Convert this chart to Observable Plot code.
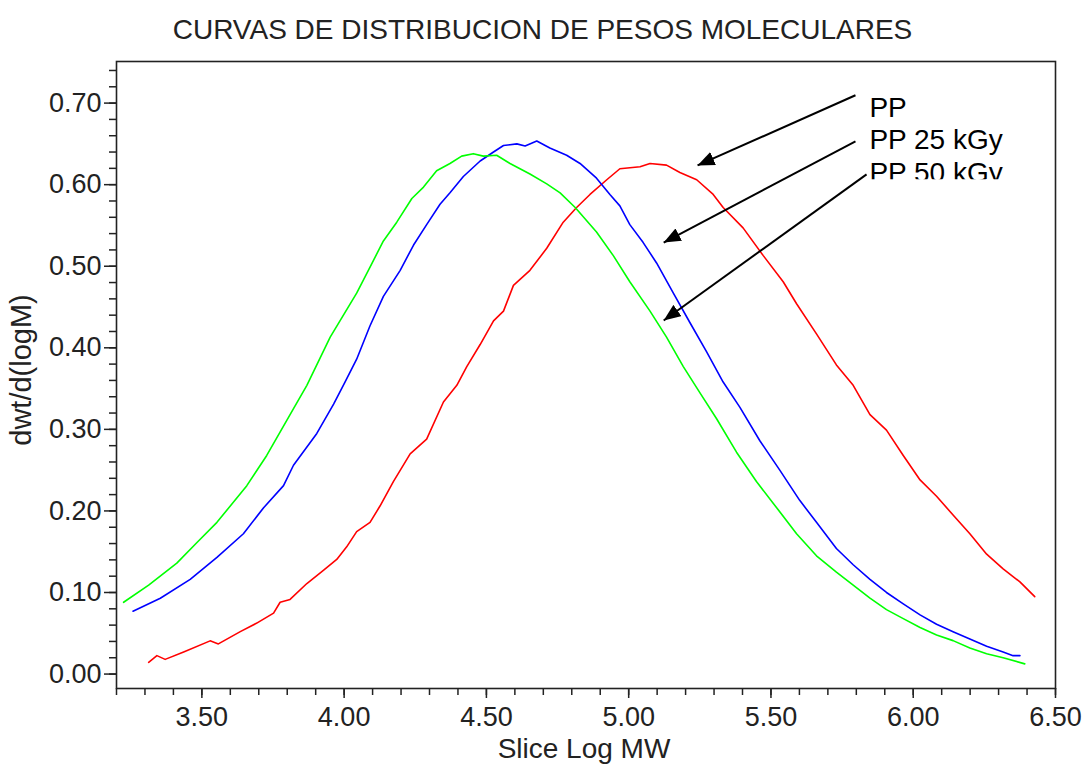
<!DOCTYPE html>
<html>
<head>
<meta charset="utf-8">
<script src="https://cdn.jsdelivr.net/npm/d3@7"></script>
<script src="https://cdn.jsdelivr.net/npm/@observablehq/plot@0.6"></script>
<style>
  html, body { margin: 0; padding: 0; background: #fff; }
  #wrap { position: relative; width: 1085px; }
  #title { position: relative; height: 51px; width: 1085px; }
  #title span { position: absolute; left: 0; width: 1085px; top: 16px; text-align: center;
    font-family: "Liberation Sans", Arial, sans-serif; font-size: 28px; line-height: 28px; color: #222; white-space: nowrap; }
  svg { display: block; }
</style>
</head>
<body>
<div id="wrap">
  <div id="title"><span>CURVAS DE DISTRIBUCION DE PESOS MOLECULARES</span></div>
  <div id="chart"></div>
</div>
<script>
// ---- Series names and colours ----
const seriesNames = ["PP", "PP 25 kGy", "PP 50 kGy"];
const seriesColors = ["#ff0000", "#0000ff", "#00ff00"];

// ---- PP (red) ----
const ppX = [3.313,3.342,3.371,3.436,3.529,3.558,3.635,3.693,3.752,3.775,3.810,3.869,3.927,3.974,4.009,4.044,4.091,4.126,4.173,4.232,4.290,4.349,4.396,4.431,4.478,4.525,4.560,4.595,4.653,4.712,4.770,4.817,4.864,4.923,4.969,5.040,5.075,5.133,5.180,5.239,5.297,5.332,5.402,5.473,5.543,5.590,5.660,5.730,5.789,5.848,5.906,5.965,6.024,6.082,6.140,6.199,6.258,6.316,6.375,6.427];
const ppY = [0.0144,0.0226,0.018,0.027,0.0407,0.037,0.052,0.0625,0.0747,0.088,0.0915,0.111,0.127,0.1405,0.156,0.1746,0.186,0.206,0.236,0.270,0.288,0.3335,0.354,0.377,0.404,0.433,0.445,0.4765,0.495,0.522,0.554,0.572,0.588,0.606,0.6195,0.622,0.626,0.624,0.615,0.606,0.588,0.572,0.547,0.513,0.481,0.454,0.417,0.379,0.354,0.318,0.299,0.268,0.238,0.218,0.195,0.172,0.147,0.129,0.113,0.095];

// ---- PP 25 kGy (blue) ----
const pp25X = [3.258,3.354,3.459,3.553,3.646,3.717,3.787,3.822,3.904,3.963,4.003,4.044,4.091,4.138,4.197,4.244,4.290,4.337,4.372,4.419,4.478,4.525,4.560,4.607,4.636,4.677,4.723,4.782,4.829,4.887,4.934,4.969,5.004,5.051,5.098,5.157,5.215,5.274,5.332,5.391,5.461,5.531,5.601,5.660,5.730,5.789,5.848,5.906,5.965,6.024,6.082,6.140,6.199,6.258,6.316,6.351,6.375];
const pp25Y = [0.077,0.093,0.116,0.143,0.172,0.204,0.231,0.256,0.295,0.331,0.358,0.386,0.427,0.463,0.495,0.526,0.551,0.576,0.590,0.610,0.629,0.640,0.648,0.650,0.6475,0.6535,0.645,0.636,0.626,0.608,0.588,0.574,0.551,0.529,0.504,0.467,0.431,0.395,0.358,0.327,0.286,0.250,0.213,0.186,0.154,0.134,0.116,0.100,0.086,0.0725,0.061,0.052,0.043,0.034,0.027,0.0226,0.0226];

// ---- PP 50 kGy (green) ----
const pp50X = [3.225,3.313,3.412,3.482,3.553,3.658,3.728,3.810,3.869,3.951,4.044,4.091,4.138,4.185,4.238,4.279,4.325,4.372,4.413,4.454,4.489,4.536,4.583,4.653,4.712,4.759,4.812,4.887,4.946,5.004,5.075,5.133,5.192,5.250,5.309,5.379,5.449,5.520,5.590,5.660,5.730,5.789,5.848,5.906,5.965,6.024,6.082,6.140,6.199,6.258,6.316,6.392];
const pp50Y = [0.088,0.109,0.136,0.161,0.186,0.231,0.268,0.318,0.354,0.413,0.467,0.499,0.531,0.554,0.583,0.597,0.617,0.626,0.635,0.638,0.635,0.636,0.626,0.613,0.601,0.590,0.572,0.542,0.513,0.481,0.445,0.413,0.377,0.345,0.313,0.272,0.236,0.204,0.172,0.145,0.125,0.109,0.093,0.079,0.068,0.057,0.048,0.041,0.032,0.025,0.020,0.0125];

// ---- Axis ticks ----
const xTicks = [3.5, 4.0, 4.5, 5.0, 5.5, 6.0, 6.5];
const yTicks = [0.0, 0.1, 0.2, 0.3, 0.4, 0.5, 0.6, 0.7];
const xMinor = d3.range(32, 66).map(d => d / 10);
const yMinor = d3.range(0, 38).map(d => d * 0.02);

// ---- Annotation: labels and arrows ----
const labelText = ["PP", "PP 25 kGy", "PP 50 kGy"];
const labelX = [5.846, 5.846, 5.846];
const labelY = [0.6936, 0.6544, 0.6145];
const labelClipY = 0.6065;   // the label box is cut off here
const arrowX1 = [5.797, 5.797, 5.836];
const arrowY1 = [0.7096, 0.653, 0.6126];
const arrowX2 = [5.242, 5.123, 5.123];
const arrowY2 = [0.6236, 0.529, 0.4335];

// ---- Build table ----
const rows = [];
[[ppX, ppY], [pp25X, pp25Y], [pp50X, pp50Y]].forEach(([xs, ys], i) => {
  xs.forEach((x, j) => rows.push({series: seriesNames[i], x, y: ys[j]}));
});

const fontFam = "'Liberation Sans', Arial, sans-serif";

const svg = Plot.plot({
  width: 1085,
  height: 714,
  marginLeft: 116,
  marginRight: 30,
  marginTop: 10,
  marginBottom: 77,
  style: {fontFamily: fontFam, fontSize: "27px", color: "#222", background: "#fff"},
  x: {domain: [3.2, 6.5]},
  y: {domain: [-0.0177, 0.751]},
  color: {domain: seriesNames, range: seriesColors},
  marks: [
    Plot.line(rows, {x: "x", y: "y", z: "series", stroke: "series", strokeWidth: 1.6, curve: "linear"}),
    Plot.frame({stroke: "#222", strokeWidth: 1.6}),
    Plot.axisY(yMinor, {tickSize: 7, fill: "none", label: null, strokeWidth: 1.5}),
    Plot.axisY(yTicks, {tickSize: 12, tickPadding: 3, tickFormat: d3.format(".2f"), fontSize: 27, label: null, strokeWidth: 1.5}),
    Plot.axisX(xMinor, {tickSize: 7, fill: "none", label: null, strokeWidth: 1.5}),
    Plot.axisX(xTicks, {tickSize: 10, tickPadding: 8, tickFormat: d3.format(".2f"), fontSize: 27, label: null, strokeWidth: 1.5}),
    Plot.text(["dwt/d(logM)"], {frameAnchor: "left", rotate: -90, dx: -95, dy: -5, fontSize: 29, fill: "#222", lineAnchor: "middle", textAnchor: "middle"}),
    Plot.text(["Slice Log MW"], {frameAnchor: "bottom", dx: -2, dy: 61, fontSize: 28, fill: "#222", lineAnchor: "middle"}),
    Plot.link(d3.range(arrowX1.length), {x1: arrowX1, y1: arrowY1, x2: arrowX2, y2: arrowY2, stroke: "#000", strokeWidth: 2}),
    Plot.text(labelText, {x: labelX, y: labelY, text: d => d, textAnchor: "start", lineAnchor: "middle", fontSize: 28, fill: "#000"})
  ]
});

// Filled arrowheads and the cut-off label box
const s = d3.select(svg);
const defs = s.insert("defs", ":first-child");
defs.append("marker")
  .attr("id", "ah").attr("viewBox", "0 0 17 14").attr("refX", 17).attr("refY", 7)
  .attr("markerWidth", 17).attr("markerHeight", 14)
  .attr("markerUnits", "userSpaceOnUse").attr("orient", "auto")
  .append("path").attr("d", "M0,0L17,7L0,14Z").attr("fill", "#000");
s.selectAll("g[aria-label='link'] path").attr("marker-end", "url(#ah)");
const clipPix = svg.scale("y").apply(labelClipY);
defs.append("clipPath").attr("id", "labclip")
  .append("rect").attr("x", 0).attr("y", 0).attr("width", 1085).attr("height", clipPix);
const textGroups = s.selectAll("g[aria-label='text']").nodes();
if (textGroups.length) d3.select(textGroups[textGroups.length - 1]).attr("clip-path", "url(#labclip)");

document.getElementById("chart").appendChild(svg);
</script>
</body>
</html>
